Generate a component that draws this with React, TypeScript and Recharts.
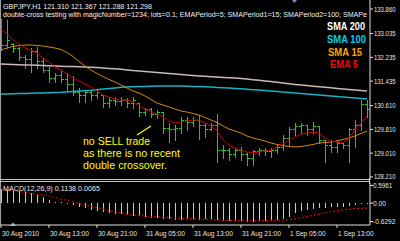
import React from 'react';
import { ComposedChart, Bar, Line, XAxis, YAxis } from 'recharts';

// bar index (hourly bars, 30 Aug 05:00 .. 1 Sep 18:00)
const barIndex = Array.from({ length: 62 }, (_, i) => i);

const openP = [133.423, 132.649, 132.682, 132.548, 132.212, 132.145, 132.414, 132.078, 131.808, 131.539, 131.640, 131.472, 131.304, 131.068, 130.934, 131.068, 130.967, 130.967, 130.665, 130.799, 130.732, 130.799, 130.665, 130.698, 130.395, 130.463, 130.328, 130.395, 129.857, 129.790, 129.857, 130.126, 130.059, 130.126, 129.958, 129.790, 129.958, 129.117, 129.117, 128.949, 129.117, 128.949, 128.848, 129.050, 129.117, 129.050, 129.117, 129.218, 129.520, 129.790, 129.891, 129.958, 129.790, 129.924, 129.453, 129.285, 129.218, 129.352, 129.285, 129.790, 129.958, 130.631];
const highP = [133.524, 133.490, 132.716, 132.582, 132.313, 132.548, 132.582, 132.212, 131.909, 131.707, 131.808, 131.707, 131.606, 131.202, 131.135, 131.135, 131.135, 130.967, 130.900, 130.900, 130.900, 130.866, 130.900, 130.698, 130.530, 130.530, 130.463, 130.395, 130.025, 129.958, 130.227, 130.227, 130.227, 130.294, 130.025, 130.025, 130.328, 129.285, 129.184, 129.184, 129.218, 129.050, 129.117, 129.184, 129.184, 129.184, 129.285, 129.621, 129.891, 130.025, 130.025, 129.958, 130.059, 129.924, 129.453, 129.453, 129.453, 129.386, 129.857, 130.126, 130.799, 130.799];
const lowP = [132.481, 132.548, 132.414, 132.145, 131.876, 131.741, 131.876, 131.741, 131.405, 131.405, 131.405, 131.135, 130.967, 130.732, 130.732, 130.799, 130.866, 130.564, 130.564, 130.631, 130.631, 130.564, 130.530, 130.261, 130.295, 130.227, 130.194, 129.689, 129.386, 129.453, 129.689, 129.790, 129.924, 129.487, 129.554, 129.790, 128.714, 128.848, 128.781, 128.882, 128.781, 128.613, 128.613, 128.949, 128.949, 128.882, 129.016, 129.117, 129.285, 129.621, 129.689, 129.621, 129.689, 129.352, 128.714, 129.050, 129.050, 129.184, 128.714, 129.218, 129.790, 130.227];
const closeP = [132.649, 132.817, 132.548, 132.212, 132.145, 132.414, 132.078, 131.808, 131.539, 131.640, 131.472, 131.304, 131.068, 130.934, 131.068, 130.967, 131.068, 130.665, 130.799, 130.732, 130.799, 130.665, 130.799, 130.395, 130.463, 130.328, 130.395, 129.857, 129.790, 129.857, 130.126, 130.059, 130.126, 129.958, 129.790, 129.958, 129.117, 129.117, 128.949, 129.117, 128.949, 128.848, 129.050, 129.117, 129.050, 129.117, 129.218, 129.520, 129.790, 129.891, 129.958, 129.790, 129.924, 129.453, 129.285, 129.218, 129.352, 129.285, 129.790, 129.958, 130.631, 130.463];

const ema5 = [133.187, 133.019, 132.817, 132.682, 132.548, 132.481, 132.380, 132.212, 132.078, 131.909, 131.808, 131.674, 131.539, 131.438, 131.337, 131.236, 131.101, 130.967, 130.900, 130.832, 130.799, 130.799, 130.732, 130.597, 130.496, 130.395, 130.328, 130.227, 130.092, 130.025, 130.059, 130.092, 130.126, 130.126, 130.025, 129.924, 129.756, 129.453, 129.285, 129.184, 129.117, 129.050, 129.016, 129.050, 129.083, 129.117, 129.218, 129.319, 129.453, 129.554, 129.655, 129.689, 129.722, 129.689, 129.521, 129.420, 129.386, 129.352, 129.521, 129.790, 130.025, 130.261];
const sma15 = [132.481, 132.548, 132.599, 132.632, 132.649, 132.649, 132.632, 132.615, 132.582, 132.548, 132.498, 132.397, 132.262, 132.094, 131.943, 131.808, 131.690, 131.590, 131.489, 131.405, 131.304, 131.202, 131.101, 131.034, 130.934, 130.816, 130.698, 130.631, 130.564, 130.496, 130.429, 130.395, 130.345, 130.294, 130.210, 130.126, 130.042, 129.924, 129.823, 129.756, 129.689, 129.588, 129.521, 129.470, 129.420, 129.352, 129.302, 129.268, 129.234, 129.218, 129.234, 129.268, 129.302, 129.352, 129.369, 129.386, 129.420, 129.470, 129.521, 129.588, 129.672, 129.756];
const sma100 = [131.001, 131.004, 131.011, 131.014, 131.021, 131.024, 131.031, 131.038, 131.045, 131.051, 131.058, 131.071, 131.085, 131.098, 131.112, 131.125, 131.145, 131.166, 131.186, 131.206, 131.226, 131.236, 131.243, 131.250, 131.257, 131.263, 131.267, 131.270, 131.270, 131.270, 131.267, 131.263, 131.257, 131.253, 131.243, 131.233, 131.223, 131.209, 131.199, 131.186, 131.176, 131.162, 131.145, 131.132, 131.115, 131.098, 131.085, 131.068, 131.051, 131.034, 131.018, 131.001, 130.984, 130.971, 130.954, 130.937, 130.920, 130.903, 130.887, 130.870, 130.850, 130.833];
const sma200 = [132.010, 132.003, 131.997, 131.987, 131.980, 131.973, 131.966, 131.956, 131.950, 131.943, 131.936, 131.929, 131.923, 131.916, 131.906, 131.899, 131.892, 131.875, 131.862, 131.849, 131.832, 131.812, 131.791, 131.775, 131.754, 131.737, 131.721, 131.704, 131.687, 131.670, 131.653, 131.640, 131.623, 131.610, 131.596, 131.583, 131.569, 131.559, 131.546, 131.536, 131.522, 131.502, 131.482, 131.462, 131.441, 131.418, 131.394, 131.367, 131.344, 131.324, 131.304, 131.283, 131.263, 131.246, 131.226, 131.209, 131.189, 131.172, 131.152, 131.135, 131.118, 131.102];

const macdHist = [0.46, 0.44, 0.41, 0.40, 0.37, 0.34, 0.27, 0.20, 0.10, 0.04, 0.02, -0.02, -0.07, -0.13, -0.17, -0.23, -0.27, -0.30, -0.34, -0.37, -0.38, -0.41, -0.44, -0.45, -0.47, -0.50, -0.51, -0.53, -0.56, -0.58, -0.57, -0.56, -0.56, -0.57, -0.56, -0.56, -0.58, -0.60, -0.61, -0.61, -0.62, -0.63, -0.63, -0.62, -0.60, -0.58, -0.58, -0.53, -0.46, -0.33, -0.26, -0.23, -0.19, -0.17, -0.17, -0.15, -0.14, -0.13, -0.10, -0.07, -0.04, -0.02];
const macdSignal = [0.476, 0.449, 0.422, 0.391, 0.357, 0.330, 0.299, 0.272, 0.245, 0.187, 0.136, 0.085, 0.034, -0.017, -0.068, -0.102, -0.153, -0.204, -0.255, -0.306, -0.340, -0.391, -0.408, -0.425, -0.442, -0.459, -0.469, -0.476, -0.493, -0.510, -0.520, -0.531, -0.544, -0.544, -0.561, -0.570, -0.575, -0.585, -0.592, -0.598, -0.603, -0.607, -0.608, -0.605, -0.600, -0.593, -0.585, -0.578, -0.565, -0.540, -0.500, -0.460, -0.420, -0.380, -0.340, -0.290, -0.260, -0.230, -0.210, -0.190, -0.180, -0.170];

const priceTicks = [133.86, 133.035, 132.235, 131.435, 130.61, 129.81, 129.01, 128.21];
const macdTicks = [0.5961, 0, -0.6292];
const macdTickLabels = ['0.5961', '0.00', '-0.6292'];
const timeTicks = [0, 8, 16, 24, 32, 40, 48, 56];
const timeLabels = ['30 Aug 2010', '30 Aug 13:00', '30 Aug 21:00', '31 Aug 05:00', '31 Aug 13:00', '31 Aug 21:00', '1 Sep 05:00', '1 Sep 13:00'];

const FONT = "'Liberation Sans', Arial, sans-serif";
const GREEN = '#14d214';
const AXIS = '#e0e0e0';

function Candle(props: any) {
  const { x, y, width, height, payload } = props;
  if (x == null || y == null || !payload) return null;
  const top = Math.min(y, y + height);
  const bot = Math.max(y, y + height);
  const span = payload.high - payload.low || 1;
  const yo = top + ((payload.high - payload.open) / span) * (bot - top);
  const yc = top + ((payload.high - payload.close) / span) * (bot - top);
  const col = Math.round(x + width / 2);
  const yO = Math.floor(yo) + 0.5;
  const yC = Math.floor(yc) + 0.5;
  return (
    <g stroke={GREEN} strokeWidth={1} shapeRendering="crispEdges">
      <line x1={col + 0.5} x2={col + 0.5} y1={Math.round(top)} y2={Math.round(bot) + 1} />
      <line x1={col - 2} x2={col} y1={yO} y2={yO} />
      <line x1={col + 1} x2={col + 3} y1={yC} y2={yC} />
    </g>
  );
}

function HistBar(props: any) {
  const { x, y, width, height } = props;
  if (x == null || y == null) return null;
  const top = Math.min(y, y + height);
  const bot = Math.max(y, y + height);
  const col = Math.round(x + width / 2);
  return <line x1={col + 0.5} x2={col + 0.5} y1={top} y2={Math.max(bot, top + 1)} stroke="#c8c8c8" strokeWidth={1} shapeRendering="crispEdges" />;
}

function PriceTick(props: any) {
  const { x, y, payload } = props;
  return (
    <text x={x} y={y} dy={2.5} fill="#e8e8e8" fontSize={7} fontFamily={FONT} textLength={21.5} lengthAdjust="spacingAndGlyphs">
      {Number(payload.value).toFixed(3)}
    </text>
  );
}

function MacdTick(props: any) {
  const { x, y, index } = props;
  const label = macdTickLabels[index] ?? '';
  return (
    <text x={x} y={y} dy={2.5} fill="#e8e8e8" fontSize={7} fontFamily={FONT} textLength={label.length * 3.2} lengthAdjust="spacingAndGlyphs">
      {label}
    </text>
  );
}

function TimeTick(props: any) {
  const { x, y, index } = props;
  return (
    <text x={x + 1} y={y} dy={7.5} fill="#e8e8e8" fontSize={6.6} fontFamily={FONT} textAnchor="start">
      {timeLabels[index]}
    </text>
  );
}

export default function App() {
  const data = barIndex.map((i) => ({
    i,
    open: openP[i],
    high: highP[i],
    low: lowP[i],
    close: closeP[i],
    ema5: ema5[i],
    sma15: sma15[i],
    sma100: sma100[i],
    sma200: sma200[i],
    macd: macdHist[i],
    signal: macdSignal[i],
  }));
  const xDomain: [number, number] = [-1 / 6, 61.5];

  return (
    <div style={{ position: 'fixed', left: 0, top: 0, width: 400, height: 241, background: '#000', overflow: 'hidden' }}>
      <div style={{ position: 'absolute', left: 0, top: 0 }}>
        <ComposedChart width={400} height={180} data={data} margin={{ top: 0, right: 0, bottom: 0, left: 0 }}>
          <XAxis dataKey="i" type="number" domain={xDomain} allowDataOverflow hide />
          <YAxis
            orientation="right"
            width={30}
            type="number"
            domain={[128.108, 134.163]}
            allowDataOverflow
            ticks={priceTicks}
            interval={0}
            tickSize={3}
            tickMargin={1}
            tick={<PriceTick />}
            axisLine={{ stroke: AXIS }}
            tickLine={{ stroke: AXIS }}
          />
          <Bar dataKey={(d: any) => [d.low, d.high]} barSize={4} shape={<Candle />} isAnimationActive={false} />
          <Line type="linear" dataKey="sma200" stroke="#c9b9b9" strokeWidth={1.5} dot={false} activeDot={false} isAnimationActive={false} />
          <Line type="linear" dataKey="sma100" stroke="#14b2c4" strokeWidth={1.5} dot={false} activeDot={false} isAnimationActive={false} />
          <Line type="linear" dataKey="sma15" stroke="#d18a0c" strokeWidth={1} dot={false} activeDot={false} isAnimationActive={false} />
          <Line type="linear" dataKey="ema5" stroke="#cc0000" strokeWidth={1} dot={false} activeDot={false} isAnimationActive={false} />
        </ComposedChart>
      </div>
      <div style={{ position: 'absolute', left: 0, top: 182 }}>
        <ComposedChart width={400} height={59} data={data} margin={{ top: 1, right: 0, bottom: 0, left: 0 }}>
          <XAxis
            dataKey="i"
            type="number"
            domain={xDomain}
            allowDataOverflow
            ticks={timeTicks}
            interval={0}
            height={16}
            tickSize={3}
            tickMargin={0}
            tick={<TimeTick />}
            axisLine={{ stroke: AXIS }}
            tickLine={{ stroke: AXIS }}
          />
          <YAxis
            orientation="right"
            width={30}
            type="number"
            domain={[-0.748, 0.68]}
            allowDataOverflow
            ticks={macdTicks}
            interval={0}
            tickSize={3}
            tickMargin={0}
            tick={<MacdTick />}
            axisLine={{ stroke: AXIS }}
            tickLine={{ stroke: AXIS }}
          />
          <Bar dataKey="macd" barSize={2} shape={<HistBar />} isAnimationActive={false} />
          <Line type="linear" dataKey="signal" stroke="#ff0000" strokeWidth={1} strokeDasharray="2 2" dot={false} activeDot={false} isAnimationActive={false} />
        </ComposedChart>
      </div>
      <svg width={400} height={241} style={{ position: 'absolute', left: 0, top: 0, pointerEvents: 'none' }}>
        <line x1={0.5} x2={0.5} y1={0} y2={225} stroke="#a0a0a0" strokeWidth={1} />
        <line x1={0} x2={370} y1={179.5} y2={179.5} stroke="#c0c0c0" strokeWidth={1} />
        <line x1={0} x2={370} y1={181.5} y2={181.5} stroke="#c0c0c0" strokeWidth={1} />
        <line x1={369.5} x2={369.5} y1={178} y2={184} stroke={AXIS} strokeWidth={1} />
        <polygon points="292,0 297,0 294.5,3" fill="#7f90a4" />
        <polygon points="10,226 16,226 13,222.5" fill="#a8b8cc" />
        <text x={3} y={8.5} fill="#f0f0f0" fontSize={7.5} fontFamily={FONT} textLength={149} lengthAdjust="spacingAndGlyphs">
          GBPJPY,H1  121.310 121.367 121.288 121.298
        </text>
        <text x={3} y={17.3} fill="#f0f0f0" fontSize={7.5} fontFamily={FONT} textLength={364} lengthAdjust="spacingAndGlyphs">
          double-cross testing with magicNumber=1234; lots=0.1; EMAPeriod=5; SMAPeriod1=15; SMAPeriod2=100; SMAPe
        </text>
        <text x={327} y={30} fill="#ffffff" fontSize={11} fontWeight="bold" fontFamily={FONT} textLength={38} lengthAdjust="spacingAndGlyphs">SMA 200</text>
        <text x={327} y={43} fill="#00cdea" fontSize={11} fontWeight="bold" fontFamily={FONT} textLength={39} lengthAdjust="spacingAndGlyphs">SMA 100</text>
        <text x={328} y={55.5} fill="#ffa200" fontSize={11} fontWeight="bold" fontFamily={FONT} textLength={34} lengthAdjust="spacingAndGlyphs">SMA 15</text>
        <text x={330} y={67.5} fill="#ff0000" fontSize={11} fontWeight="bold" fontFamily={FONT} textLength={28} lengthAdjust="spacingAndGlyphs">EMA 5</text>
        <line x1={137} y1={135} x2={151} y2={126} stroke="#ffff00" strokeWidth={1.2} />
        <text x={83} y={144.5} fill="#ffff00" fontSize={11} fontFamily={FONT} textLength={67} lengthAdjust="spacingAndGlyphs">no SELL trade</text>
        <text x={83} y={156.5} fill="#ffff00" fontSize={11} fontFamily={FONT} textLength={97} lengthAdjust="spacingAndGlyphs">as there is no recent</text>
        <text x={83} y={168.8} fill="#ffff00" fontSize={11} fontFamily={FONT} textLength={84} lengthAdjust="spacingAndGlyphs">double crossover.</text>
        <text x={3} y={191} fill="#e8e8e8" fontSize={7.5} fontFamily={FONT} textLength={97} lengthAdjust="spacingAndGlyphs">MACD(12,26,9) 0.1138 0.0065</text>
      </svg>
    </div>
  );
}
